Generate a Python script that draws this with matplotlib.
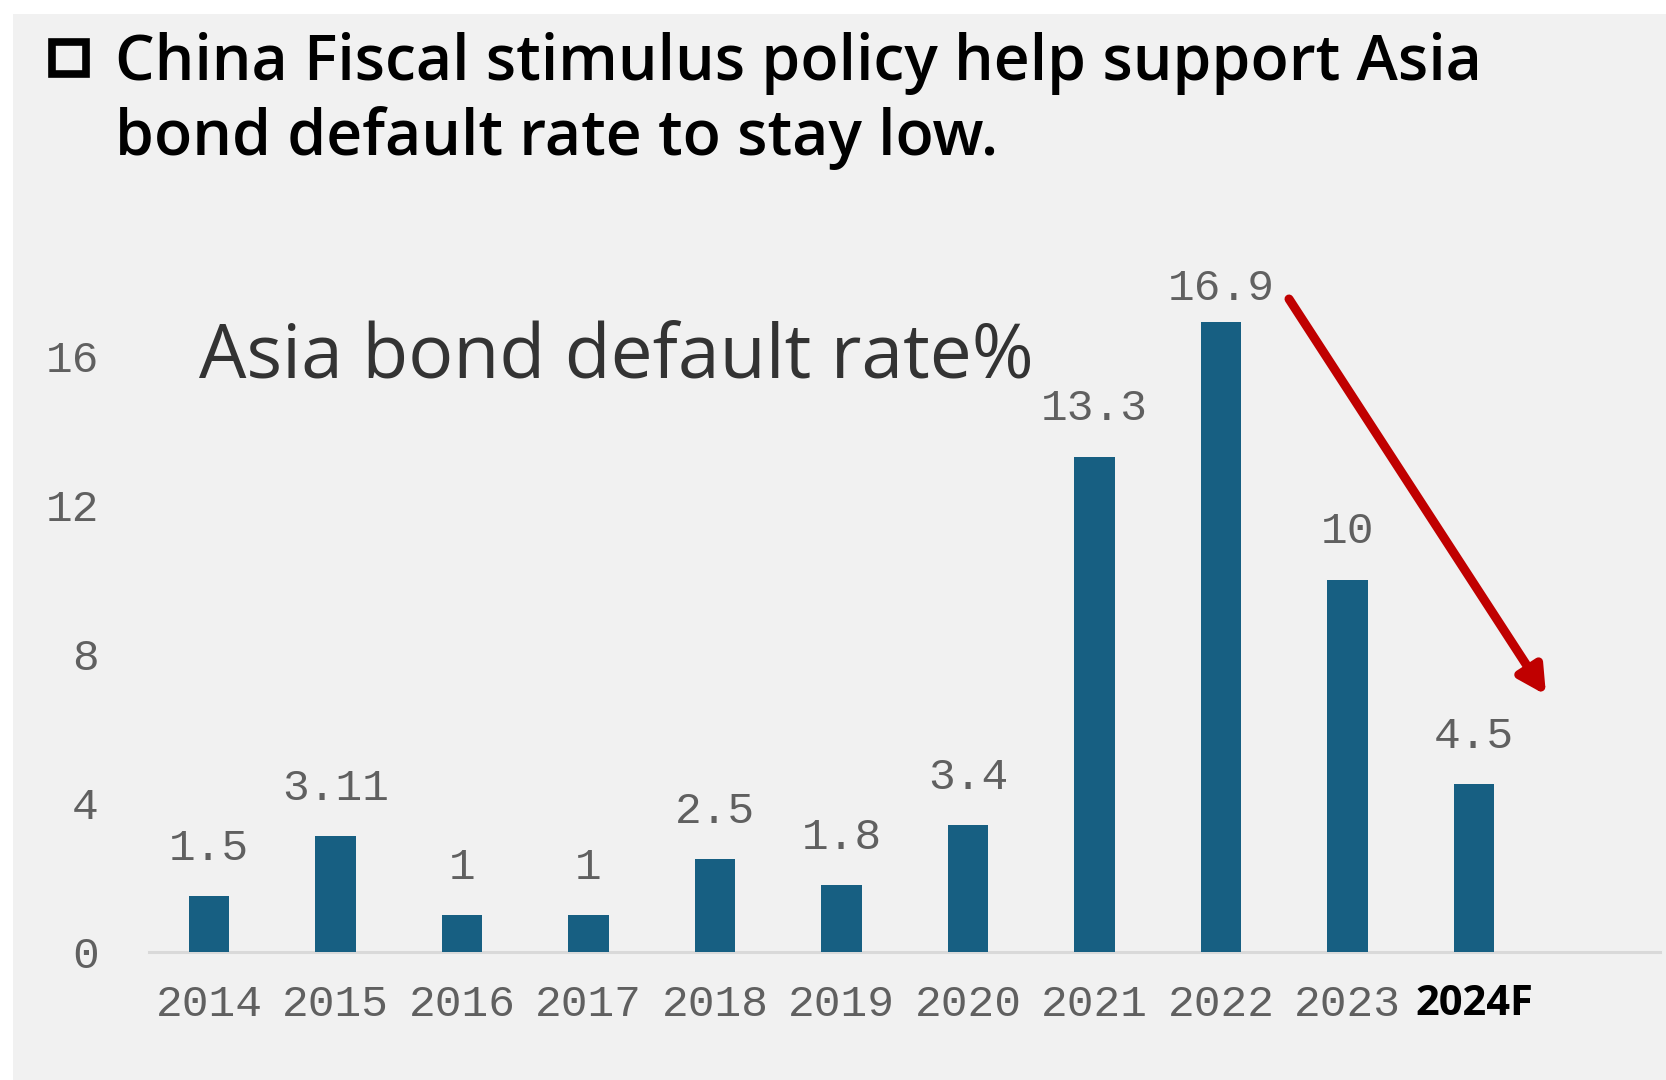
import matplotlib
matplotlib.use("Agg")
import matplotlib.pyplot as plt
from matplotlib.patches import Rectangle

years = ["2014", "2015", "2016", "2017", "2018", "2019", "2020", "2021", "2022", "2023", "2024F"]
default_rate = [1.5, 3.11, 1, 1, 2.5, 1.8, 3.4, 13.3, 16.9, 10, 4.5]
rate_labels = ["1.5", "3.11", "1", "1", "2.5", "1.8", "3.4", "13.3", "16.9", "10", "4.5"]
y_ticks = [0, 4, 8, 12, 16]

W, H = 1666, 1080
BAR_COLOR = "#175f82"
BG = "#f1f1f1"
MONO = "Liberation Mono"
SANS = "Open Sans"
GREY_TXT = "#606060"

fig = plt.figure(figsize=(W / 100, H / 100), dpi=100)
fig.patch.set_facecolor("white")
# grey panel behind everything
fig.patches.append(Rectangle((13 / W, 0), 1 - 13 / W, 1 - 14 / H, transform=fig.transFigure,
                             facecolor=BG, edgecolor="none", zorder=-10))

ax = fig.add_axes([149 / W, 128 / H, (1660 - 149) / W, 745 / H])
ax.set_facecolor("none")
x = list(range(len(years)))
ax.bar(x, default_rate, width=0.32, color=BAR_COLOR, zorder=3)
ax.set_xlim(-0.474, 11.47)
ax.set_ylim(0, 20)

for i, (v, lab) in enumerate(zip(default_rate, rate_labels)):
    off = 16 if v > 16 else 26
    ax.annotate(lab, (i, v), xytext=(0, off), textcoords="offset points",
                ha="center", va="baseline", fontsize=32, family=MONO, color=GREY_TXT)

for s in ["top", "right", "left"]:
    ax.spines[s].set_visible(False)
ax.spines["bottom"].set_color("#d9d9d9")
ax.spines["bottom"].set_linewidth(2.2)

ax.set_yticks(y_ticks)
ax.set_yticklabels([str(t) for t in y_ticks], family=MONO, fontsize=32, color=GREY_TXT)
ax.tick_params(axis="y", length=0, pad=36)
ax.set_xticks(x)
ax.set_xticklabels(years, family=MONO, fontsize=32, color=GREY_TXT)
ax.tick_params(axis="x", length=0, pad=23)
last = ax.get_xticklabels()[-1]
last.set_fontfamily(SANS)
last.set_fontweight("bold")
last.set_color("black")
last.set_fontsize(30)

fig.text(187 / W * 1.0625, 1 - 377 / H, "Asia bond default rate%", fontsize=54, family=SANS,
         color="#333333", va="baseline", ha="left")

# title with square bullet
fig.patches.append(Rectangle((52 / W, 1 - 74 / H), 34 / W, 32 / H, transform=fig.transFigure,
                             facecolor="none", edgecolor="black", linewidth=5.5, zorder=5))
fig.text(115 / W, 1 - 80 / H, "China Fiscal stimulus policy help support Asia",
         fontsize=45, family=SANS, fontweight="semibold", color="black", va="baseline", ha="left")
fig.text(115 / W, 1 - 155 / H, "bond default rate to stay low.",
         fontsize=45, family=SANS, fontweight="semibold", color="black", va="baseline", ha="left")

ax.annotate("", xy=(1546 / W, 1 - 695 / H), xytext=(1289 / W, 1 - 299 / H),
            xycoords="figure fraction", textcoords="figure fraction",
            arrowprops=dict(arrowstyle="-|>,head_length=1.6,head_width=0.85", color="#c00000", lw=6.5,
                            shrinkA=0, shrinkB=0))

fig.savefig("out.png", dpi=100, facecolor=fig.get_facecolor())
